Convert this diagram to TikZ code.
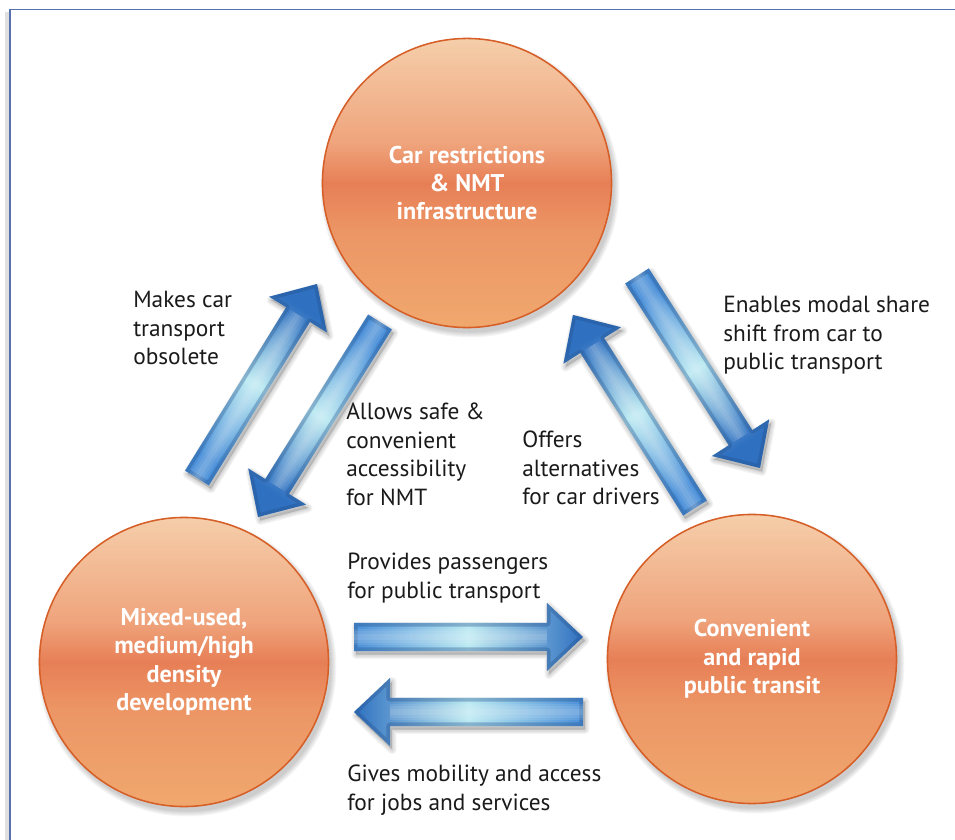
\documentclass[tikz,border=0pt]{standalone}
\usepackage{fontspec}
\setmainfont{PT Sans}
\usetikzlibrary{calc}

\definecolor{hubtop}{HTML}{F5CEAA}
\definecolor{hubup}{HTML}{EFA47C}
\definecolor{hubmid}{HTML}{E77F56}
\definecolor{hublow}{HTML}{EC9565}
\definecolor{hubbot}{HTML}{F0A86E}
\definecolor{hubline}{HTML}{D65E27}
\definecolor{arrowtail}{HTML}{4A8FD8}
\definecolor{arrowlight}{HTML}{BDEAF2}
\definecolor{arrowhead}{HTML}{2F70C0}
\definecolor{arrowdark}{HTML}{23508A}
\definecolor{framecol}{HTML}{5670B0}
\definecolor{txt}{HTML}{1A1A1A}

\pgfdeclareverticalshading{hubshade}{100bp}{color(0bp)=(hubbot); color(25bp)=(hubbot); color(42bp)=(hublow); color(50bp)=(hubmid); color(57bp)=(hubup); color(75bp)=(hubtop); color(100bp)=(hubtop)}
\pgfdeclarehorizontalshading{arrowshade}{100bp}{color(0bp)=(arrowtail); color(25bp)=(arrowtail); color(50bp)=(arrowlight); color(75bp)=(arrowhead); color(100bp)=(arrowhead)}

\tikzset{
  hub/.style={circle, draw=hubline, line width=1.1pt, minimum size=7.225cm, inner sep=0pt,
    shading=hubshade, text=white, align=center, font=\bfseries\fontsize{17.2}{20.2}\selectfont},
  lbl/.style={anchor=north west, inner sep=0pt, align=left, text=txt, font=\fontsize{16.6}{20.2}\selectfont}
}

% outline of a block arrow from tail #1 to tip #2
\newcommand{\arrowpath}[2]{($(#1)!0.35cm!90:(#2)$) -- ($(#1b)!0.35cm!90:(#2)$) -- ($(#1b)!0.85cm!90:(#2)$) -- (#2) -- ($(#1b)!0.85cm!-90:(#2)$) -- ($(#1b)!0.35cm!-90:(#2)$) -- ($(#1)!0.35cm!-90:(#2)$) -- cycle}

\newcommand{\blockarrow}[3]{%
  \coordinate (#1b) at ($(#2)!0.9cm!(#1)$);
  \foreach \k in {1,...,4}
    \filldraw[black, opacity=0.045, line width=\k*1.6pt, line join=round,
      transform canvas={xshift=1.5pt, yshift=-2.5pt}] \arrowpath{#1}{#2};
  \shade[shading=arrowshade, shading angle=#3] \arrowpath{#1}{#2};
  \begin{scope}
    \clip \arrowpath{#1}{#2};
    \draw[arrowdark, opacity=0.35, line width=5pt, line join=round] \arrowpath{#1}{#2};
    \foreach \k in {4,8,12}
      \draw[white, opacity=0.09, line width=\k pt] (#1) -- (#1b);
  \end{scope}
}

\begin{document}
\begin{tikzpicture}[x=0.025cm, y=-0.025cm]
  \useasboundingbox (0,0) rectangle (955,840);

  % frame
  \draw[black!12, line width=2.5pt] (7,840) -- (7,12);
  \draw[framecol, line width=0.9pt] (10,840) -- (10,9.5) -- (955,9.5);

  % circle centres and soft shadows
  \coordinate (c-top) at (467,183);
  \coordinate (c-mix) at (184,662);
  \coordinate (c-pt) at (752,659);
  \foreach \c in {c-top,c-mix,c-pt}
    \foreach \k in {0,...,5}
      \fill[black, opacity=0.035] ($(\c)+(3,5)$) circle ({144.5+\k});

  % arrow ends
  \coordinate (a1) at (197,478);  \coordinate (a1h) at (317,284);
  \coordinate (a2) at (380,322);  \coordinate (a2h) at (258,517);
  \coordinate (a3) at (637,276);  \coordinate (a3h) at (760,468);
  \coordinate (a4) at (695,508);  \coordinate (a4h) at (573,315);
  \coordinate (a5) at (354,637);  \coordinate (a5h) at (583,637);
  \coordinate (a6) at (583,712);  \coordinate (a6h) at (354,712);

  \blockarrow{a1}{a1h}{58}
  \blockarrow{a2}{a2h}{238}
  \blockarrow{a3}{a3h}{-57}
  \blockarrow{a4}{a4h}{122}
  \blockarrow{a5}{a5h}{0}
  \blockarrow{a6}{a6h}{180}

  % circles
  \node[hub] (restrict) at (c-top) {Car restrictions\\\& NMT\\infrastructure};
  \node[hub] (mixed) at (c-mix) {Mixed-used,\\medium/high\\density\\development};
  \node[hub] (transit) at (c-pt) {Convenient\\and rapid\\public transit};

  % labels
  \node[lbl] (obsolete) at (133,291) {Makes car\\transport\\obsolete};
  \node[lbl] (nmt) at (346,403) {Allows safe \&\\convenient\\accessibility\\for NMT};
  \node[lbl] (shift) at (723,296) {Enables modal share\\shift from car to\\public transport};
  \node[lbl] (offers) at (522,431) {Offers\\alternatives\\for car drivers};
  \node[lbl] (passengers) at (347,553) {Provides passengers\\for public transport};
  \node[lbl] (mobility) at (347,765) {Gives mobility and access\\for jobs and services};
\end{tikzpicture}
\end{document}
